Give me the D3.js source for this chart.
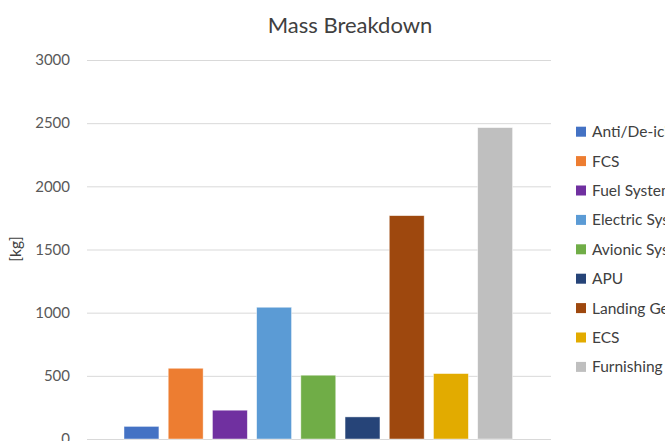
<!DOCTYPE html>
<html>
<head>
<meta charset="utf-8">
<script src="https://cdn.jsdelivr.net/npm/d3@7"></script>
<style>
  html, body { margin: 0; padding: 0; background: #fff; overflow: hidden; }
  svg { display: block; font-family: Lato, "Open Sans", sans-serif; }
</style>
</head>
<body>
<svg width="665" height="441"></svg>
<script>
const series = ['Anti/De-icing', 'FCS', 'Fuel System', 'Electric System', 'Avionic System', 'APU', 'Landing Gear', 'ECS', 'Furnishing'];
const values = [100, 560, 228, 1043, 505, 175, 1768, 518, 2465];
const colors = ['#4472C4', '#ED7D31', '#7030A0', '#5B9BD5', '#70AD47', '#264478', '#9E480E', '#E2AB00', '#BFBFBF'];
const yTicks = [0, 500, 1000, 1500, 2000, 2500, 3000];

const svg = d3.select('svg');
const plot = { left: 87, right: 551, top: 60, bottom: 439 };

const x = d3
  .scaleBand()
  .domain(series)
  .range([124, 512.6])
  .paddingInner(0.21)
  .paddingOuter(0);
const y = d3
  .scaleLinear()
  .domain([0, 3000])
  .range([plot.bottom, plot.top]);

// gridlines + tick labels
const yAxis = svg
  .append('g')
  .attr('transform', `translate(${plot.left},0)`)
  .call(
    d3.axisLeft(y)
      .tickValues(yTicks)
      .tickFormat(d3.format('d'))
      .tickSize(-(plot.right - plot.left))
      .tickPadding(17)
  );
yAxis.select('.domain').remove();
yAxis.selectAll('line').attr('stroke', '#d9d9d9').attr('stroke-width', 1);
yAxis.selectAll('text')
  .attr('fill', '#595959')
  .attr('font-size', '15px')
  .attr('font-family', 'Lato, sans-serif');

// bars
svg.selectAll('.bar')
  .data(values)
  .enter()
  .append('rect')
  .attr('class', 'bar')
  .attr('x', (d, i) => x(series[i]))
  .attr('y', (d) => y(d))
  .attr('width', x.bandwidth())
  .attr('height', (d) => y(0) - y(d))
  .attr('fill', (d, i) => colors[i])
  .attr('stroke', '#fff')
  .attr('stroke-opacity', 0.6)
  .attr('stroke-width', 0.75);

// title
svg.append('text')
  .attr('x', 350)
  .attr('y', 33)
  .attr('text-anchor', 'middle')
  .attr('font-size', '22px')
  .attr('fill', '#404040')
  .text('Mass Breakdown');

// y label
svg.append('text')
  .attr('transform', 'translate(21,249) rotate(-90)')
  .attr('text-anchor', 'middle')
  .attr('font-size', '15.5px')
  .attr('fill', '#404040')
  .text('[kg]');

// legend
const legend = svg.selectAll('.legend')
  .data(series)
  .enter()
  .append('g')
  .attr('class', 'legend')
  .attr('transform', (d, i) => `translate(576,${131.7 + i * 29.4})`);
legend.append('rect')
  .attr('y', -5)
  .attr('width', 10)
  .attr('height', 10)
  .attr('fill', (d, i) => colors[i]);
legend.append('text')
  .attr('x', 16)
  .attr('dy', '0.35em')
  .attr('font-size', '15.5px')
  .attr('fill', '#404040')
  .text((d) => d);
</script>
</body>
</html>
